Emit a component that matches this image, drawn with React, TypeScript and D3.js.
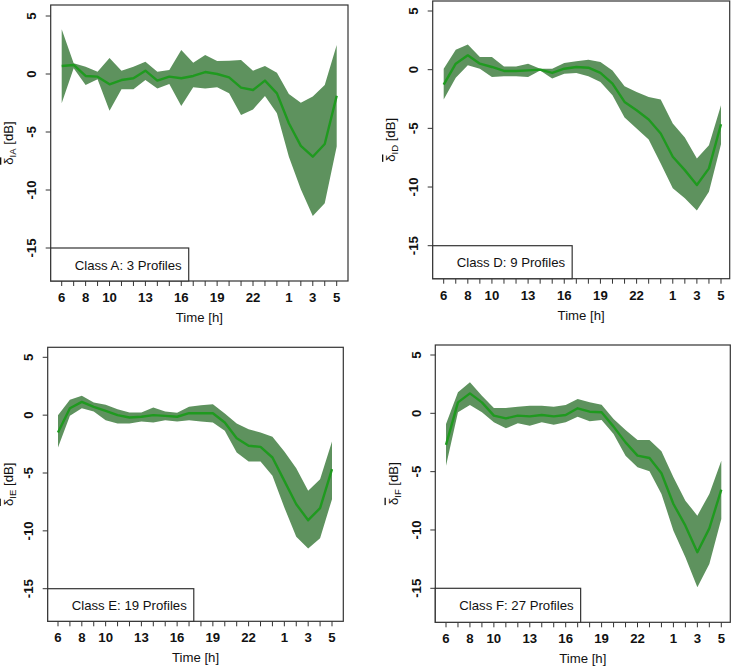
import React, { useEffect, useRef } from "react";
import * as d3 from "d3";

// Hours of day (6 .. 29 where 24 = 0h, 25 = 1h, ...)
const hours = d3.range(6, 30);
const xTickLabels = [6, 8, 10, 13, 16, 19, 22, 1, 3, 5];
const xTickHours = [6, 8, 10, 13, 16, 19, 22, 25, 27, 29];
const yTicks = [-15, -10, -5, 0, 5];

const meanA = [0.69, 0.78, -0.17, -0.23, -0.89, -0.52, -0.37, 0.29, -0.57, -0.23, -0.37, -0.17, 0.17, 0, -0.29, -1.18, -1.38, -0.57, -1.67, -4.25, -6.2, -7.13, -6.03, -1.87];
const upperA = [3.85, 0.92, 0.63, 0.2, 1.38, 0.29, 0.63, 1.06, 0.2, 0.34, 2.07, 0.98, 1.64, 1.12, 1.15, 1.2, 0.29, 0.69, 0.11, -1.72, -2.47, -1.95, -0.95, 2.5];
const lowerA = [-2.53, 0.49, -0.95, -0.46, -3.16, -1.32, -1.32, -0.52, -1.24, -0.86, -2.76, -1.15, -1.24, -1.15, -1.67, -3.53, -3.05, -1.9, -3.39, -7.13, -9.94, -12.24, -11.15, -6.26];

const meanD = [-1.27, 0.51, 1.22, 0.51, 0.23, -0.11, -0.11, -0.06, 0, -0.28, 0.08, 0.23, 0.17, -0.28, -1.19, -2.75, -3.46, -4.25, -5.44, -7.42, -8.56, -9.83, -8.41, -4.65];
const upperD = [0.08, 1.7, 2.15, 1.08, 1.08, 0.28, 0.28, 0.51, 0.08, 0.08, 0.57, 0.71, 0.85, 0.65, -0.06, -1.42, -1.9, -2.32, -2.55, -4.59, -5.78, -7.56, -6.43, -3.03];
const lowerD = [-2.55, -0.68, 0.37, 0.08, -0.62, -0.57, -0.57, -0.62, -0.06, -0.76, -0.34, -0.28, -0.57, -1.05, -2.18, -4.08, -5.01, -5.95, -7.99, -10.11, -10.96, -12.0, -10.4, -6.35];

const meanE = [-1.5, 0.6, 1.15, 0.72, 0.37, 0, -0.2, -0.14, 0, -0.06, -0.14, 0.17, 0.17, 0.17, -0.63, -1.99, -2.65, -2.74, -3.66, -5.68, -7.7, -9.08, -8.04, -4.67];
const upperE = [0, 1.33, 1.67, 1.1, 0.89, 0.52, 0.23, 0.23, 0.66, 0.32, 0.2, 0.72, 0.86, 0.95, 0.14, -0.72, -1.21, -1.5, -1.87, -3.14, -4.58, -6.54, -5.53, -2.28];
const lowerE = [-2.8, -0.06, 0.6, 0.32, -0.43, -0.72, -0.72, -0.55, -0.63, -0.43, -0.55, -0.43, -0.55, -0.63, -1.35, -3.23, -4.01, -4.01, -5.24, -7.98, -10.52, -11.53, -10.63, -7.26];

const meanF = [-2.71, 0.94, 1.71, 0.94, -0.2, -0.43, -0.2, -0.26, -0.14, -0.26, -0.14, 0.43, 0.14, 0.09, -1.14, -2.49, -3.63, -3.83, -5.14, -7.77, -9.63, -11.91, -9.86, -6.54];
const upperF = [-0.91, 1.8, 2.66, 1.51, 0.46, 0.46, 0.57, 0.66, 0.66, 0.57, 0.71, 1.23, 0.94, 0.74, -0.49, -1.43, -2.29, -2.29, -3.26, -5.49, -7.49, -8.77, -6.91, -4.06];
const lowerF = [-4.49, 0.09, 0.71, 0.09, -0.77, -1.29, -0.86, -1.06, -0.77, -0.97, -0.77, -0.29, -0.69, -0.57, -1.77, -3.63, -4.63, -4.97, -6.91, -10.06, -12.34, -14.91, -12.91, -9.06];

const classNames = ["A", "D", "E", "F"];
const profileCounts = [3, 9, 19, 27];
const means = [meanA, meanD, meanE, meanF];
const uppers = [upperA, upperD, upperE, upperF];
const lowers = [lowerA, lowerD, lowerE, lowerF];

// layout: frame box and axis anchor pixels per panel
const layout = [
  { l: 50.7, t: 5, r: 348, b: 281, y5: 16, y15: 248, x6: 61.7, x29: 336.7, labX: 8.5 },
  { l: 432.7, t: 1, r: 729.7, b: 278.7, y5: 11, y15: 245.7, x6: 443.7, x29: 721, labX: 390.5 },
  { l: 47.7, t: 347.3, r: 343.3, b: 621.3, y5: 357.3, y15: 588.7, x6: 58, x29: 332, labX: 8 },
  { l: 435.3, t: 345, r: 730.3, b: 622.3, y5: 355, y15: 588.3, x6: 446, x29: 721.3, labX: 393 },
];

const FONT = "'Liberation Sans', Arial, Helvetica, sans-serif";
const BAND = "#5e925e";
const LINE = "#1f9a1f";
const FRAME = "#333333";
const FS = 13.2;

export default function App() {
  const ref = useRef<SVGSVGElement | null>(null);

  useEffect(() => {
    document.body.style.margin = "0";
    const svg = d3.select(ref.current);
    svg.selectAll("*").remove();

    layout.forEach((p, i) => {
      const x = d3.scaleLinear().domain([6, 29]).range([p.x6, p.x29]);
      const y = d3.scaleLinear().domain([-15, 5]).range([p.y15, p.y5]);
      const g = svg.append("g");
      const data = hours.map((h, k) => ({ h, m: means[i][k], u: uppers[i][k], lo: lowers[i][k] }));

      const area = d3
        .area<any>()
        .x((d) => x(d.h))
        .y0((d) => y(d.lo))
        .y1((d) => y(d.u));
      g.append("path").attr("d", area(data)).attr("fill", BAND);

      const line = d3
        .line<any>()
        .x((d) => x(d.h))
        .y((d) => y(d.m));
      g.append("path")
        .attr("d", line(data))
        .attr("fill", "none")
        .attr("stroke", LINE)
        .attr("stroke-width", 2.4)
        .attr("stroke-linejoin", "round");

      // frame
      g.append("rect")
        .attr("x", p.l)
        .attr("y", p.t)
        .attr("width", p.r - p.l)
        .attr("height", p.b - p.t)
        .attr("fill", "none")
        .attr("stroke", FRAME)
        .attr("stroke-width", 1.2);

      // x ticks
      hours.forEach((h) => {
        g.append("line")
          .attr("x1", x(h))
          .attr("x2", x(h))
          .attr("y1", p.b)
          .attr("y2", p.b + 5)
          .attr("stroke", FRAME)
          .attr("stroke-width", 1);
      });
      xTickHours.forEach((h, k) => {
        g.append("text")
          .attr("x", x(h))
          .attr("y", p.b + 21)
          .attr("text-anchor", "middle")
          .attr("font-family", FONT)
          .attr("font-size", FS)
          .attr("font-weight", "bold")
          .attr("fill", "#111")
          .text(String(xTickLabels[k]));
      });
      g.append("text")
        .attr("x", (p.l + p.r) / 2)
        .attr("y", p.b + 41)
        .attr("text-anchor", "middle")
        .attr("font-family", FONT)
        .attr("font-size", FS)
        .attr("fill", "#111")
        .text("Time [h]");

      // y ticks
      yTicks.forEach((v) => {
        g.append("line")
          .attr("x1", p.l - 5)
          .attr("x2", p.l)
          .attr("y1", y(v))
          .attr("y2", y(v))
          .attr("stroke", FRAME)
          .attr("stroke-width", 1);
        const tx = p.l - 14.5;
        g.append("text")
          .attr("transform", `translate(${tx},${y(v)}) rotate(-90)`)
          .attr("text-anchor", "middle")
          .attr("font-family", FONT)
          .attr("font-size", FS)
          .attr("font-weight", "bold")
          .attr("fill", "#111")
          .text(String(v));
      });

      // y label
      const cy = (p.t + p.b) / 2;
      const lab = g
        .append("text")
        .attr("transform", `translate(${p.labX + 4.5},${cy}) rotate(-90)`)
        .attr("text-anchor", "middle")
        .attr("font-family", FONT)
        .attr("font-size", FS)
        .attr("fill", "#111");
      lab.append("tspan").attr("text-decoration", "overline").style("text-decoration", "overline").text("δ");
      lab.append("tspan").attr("font-size", 9.5).attr("dy", 3).text("I" + classNames[i]);
      lab.append("tspan").attr("dy", -3).text(" [dB]");

      // legend box
      const txt = g
        .append("text")
        .attr("x", p.l + 24)
        .attr("y", (y(-15) + p.b) / 2 + 5)
        .attr("font-family", FONT)
        .attr("font-size", FS)
        .attr("fill", "#111")
        .text(`Class ${classNames[i]}: ${profileCounts[i]} Profiles`);
      const tl = (txt.node() as SVGTextElement).getComputedTextLength();
      g.insert("rect", "text")
        .attr("x", p.l)
        .attr("y", y(-15))
        .attr("width", tl + 31)
        .attr("height", p.b - y(-15))
        .attr("fill", "white")
        .attr("stroke", FRAME)
        .attr("stroke-width", 1.2);
    });
  }, []);

  return (
    <svg
      ref={ref}
      width={734}
      height={667}
      style={{ display: "block", background: "white" }}
    />
  );
}
